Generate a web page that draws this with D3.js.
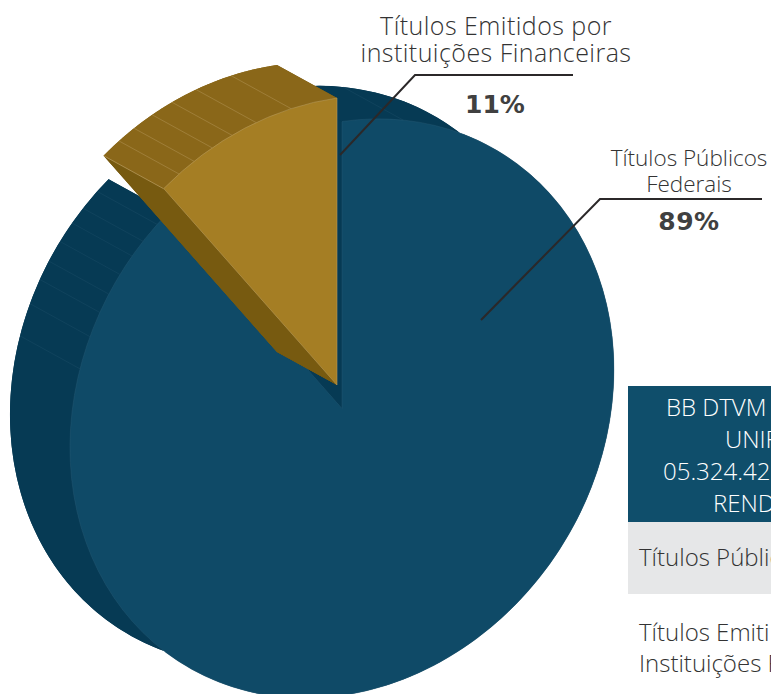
<!DOCTYPE html>
<html><head><meta charset="utf-8">
<script src="https://cdn.jsdelivr.net/npm/d3@7/dist/d3.min.js"></script>
<style>html,body{margin:0;padding:0;background:#fff;overflow:hidden}svg{display:block}</style>
</head><body><div id="c"></div>
<script>
const categories = ["Títulos Públicos Federais", "Títulos Emitidos por instituições Financeiras"];
const values = [89, 11];
const percentLabels = ["89%", "11%"];
const headerLines = ["BB DTVM", "UNIF", "05.324.42", "REND"];
const rowLines = ["Títulos Públic", "Títulos Emiti", "Instituições F"];
const faceColors = ["#0f4a67", "#a57e24"];
const wallColors = ["#063a54", "#8a6719"];
const cutColors = ["#063a54", "#775a10"];
const lineColors = ["#2f5f78", "#b5985a"];
const blueRibDeg = [13, -42.8, -47, -50.5, -54.7, -59, -62.9, -67.9, -74.4];
const goldRibDeg = [-35.5, -31.7, -27.3, -22.7, -17.3, -9.7];

const W = 771, H = 694;
const svg = d3.select("#c").append("svg").attr("width", W).attr("height", H);
const AX = [272, -39], AY = 287, DEPTH = [-60, -33];
const centers = [[342, 408.5], [337, 385]];
const project = (c, t, off) => [
  c[0] + AX[0] * Math.sin(t) + (off ? DEPTH[0] : 0),
  c[1] + AX[1] * Math.sin(t) - AY * Math.cos(t) + (off ? DEPTH[1] : 0)
];
const arcs = d3.pie().sort(null).startAngle(0).endAngle(2 * Math.PI)(values);
const unitArc = d3.arc().innerRadius(0).outerRadius(1);
const line = d3.line();
const mat = c => `matrix(${AX[0]},${AX[1]},0,${AY},${c[0]},${c[1]})`;

arcs.forEach((a, i) => {
  const c = centers[i];
  const g = svg.append("g");
  const n = 240;
  const ts = d3.range(n + 1).map(k => a.startAngle + (a.endAngle - a.startAngle) * k / n);
  g.append("path").attr("d", unitArc(a)).attr("fill", wallColors[i])
    .attr("transform", `translate(${DEPTH}) ${mat(c)}`);
  [a.startAngle, a.endAngle].forEach(t => {
    g.append("path").attr("d", line([c, project(c, t), project(c, t, true), [c[0] + DEPTH[0], c[1] + DEPTH[1]]]) + "Z")
      .attr("fill", cutColors[i]);
  });
  const wall = ts.map(t => project(c, t)).concat(ts.slice().reverse().map(t => project(c, t, true)));
  g.append("path").attr("d", line(wall) + "Z").attr("fill", wallColors[i]);
  const ribs = i === 0 ? blueRibDeg : goldRibDeg;
  ribs.forEach(d => {
    const t = d * Math.PI / 180;
    g.append("path").attr("d", line([project(c, t), project(c, t, true)]))
      .attr("stroke", lineColors[i]).attr("stroke-width", 0.6).attr("fill", "none")
      .attr("stroke-opacity", i === 0 ? 0.4 : 0.8);
  });
  if (i === 1) {
    const t = a.startAngle;
    g.append("path").attr("d", line([c, project(c, t), project(c, t, true), [c[0] + DEPTH[0], c[1] + DEPTH[1]]]) + "Z")
      .attr("fill", cutColors[i]);
    g.append("path").attr("d", line([project(c, t), project(c, t, true)]))
      .attr("stroke", lineColors[i]).attr("stroke-width", 0.8).attr("fill", "none");
  }
  g.append("path").attr("d", unitArc(a)).attr("fill", faceColors[i])
    .attr("stroke", lineColors[i]).attr("stroke-width", i === 0 ? 0.5 : 0.6)
    .attr("stroke-opacity", i === 0 ? 0.7 : 1)
    .attr("vector-effect", "non-scaling-stroke")
    .attr("transform", mat(c));
});

const leaderA = [[340, 155], [415, 75], [573, 75]];
const leaderB = [[481, 320], [600, 199], [762, 199]];
[leaderA, leaderB].forEach(p => svg.append("path").attr("d", line(p))
  .attr("fill", "none").attr("stroke", "#2b2829").attr("stroke-width", 2));

const FONT = "'Open Sans', Roboto, sans-serif";
const label = (x, y, s, size, o = {}) => svg.append("text").attr("x", x).attr("y", y).text(s)
  .attr("font-family", o.family || FONT).attr("font-size", size).attr("font-weight", o.weight || 300)
  .attr("letter-spacing", o.ls || 0)
  .attr("text-anchor", o.anchor || "middle").attr("fill", o.fill || "#333");

label(496, 35, "Títulos Emitidos por", 25, {ls: 0.45});
label(496, 62, "instituições Financeiras", 25, {ls: 0.45});
label(495, 113, percentLabels[1], 25, {family: "'DejaVu Sans'", weight: 700, fill: "#404040"});
label(689, 166, "Títulos Públicos", 22.5);
label(689, 192, "Federais", 22.5);
label(689, 230, percentLabels[0], 25, {family: "'DejaVu Sans'", weight: 700, fill: "#404040", ls: 0.5});

svg.append("rect").attr("x", 628).attr("y", 386).attr("width", W - 628).attr("height", 136).attr("fill", "#0f4e6b");
svg.append("rect").attr("x", 628).attr("y", 522).attr("width", W - 628).attr("height", 72).attr("fill", "#e6e7e8");
const hx = [666, 725, 663, 713];
const hy = [416, 448, 480, 512];
headerLines.forEach((s, i) => label(hx[i], hy[i], s, 24, {anchor: "start", fill: "#fff"}));
label(639, 566, rowLines[0], 24, {anchor: "start"});
label(639, 641, rowLines[1], 24, {anchor: "start"});
label(639, 672, rowLines[2], 24, {anchor: "start"});
</script></body></html>
